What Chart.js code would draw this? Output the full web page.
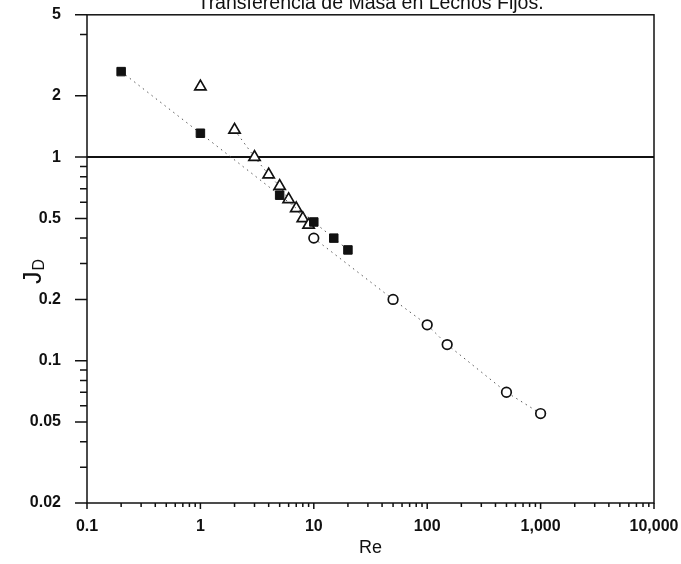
<!DOCTYPE html>
<html>
<head>
<meta charset="utf-8">
<script src="https://cdn.jsdelivr.net/npm/chart.js@4.4.1/dist/chart.umd.min.js"></script>
<style>
  html, body { margin: 0; padding: 0; background: #fff; }
  #wrap { position: relative; width: 681px; height: 564px; }
</style>
</head>
<body>
<div id="wrap"><canvas id="chart"></canvas></div>
<script>
// Data (Re vs J_D)
const squareRe = [0.2, 1, 5, 10, 15, 20];
const squareJd = [2.63, 1.31, 0.65, 0.48, 0.40, 0.35];

const triangleRe = [1, 2, 3, 4, 5, 6, 7, 8, 9];
const triangleJd = [2.22, 1.36, 1.0, 0.82, 0.72, 0.62, 0.56, 0.50, 0.465];

const circleRe = [10, 50, 100, 150, 500, 1000];
const circleJd = [0.40, 0.20, 0.15, 0.12, 0.07, 0.055];

// Axis ticks
const xTickValues = [0.1, 1, 10, 100, 1000, 10000];
const xTickLabels = ['0.1', '1', '10', '100', '1,000', '10,000'];
const yTickValues = [0.02, 0.05, 0.1, 0.2, 0.5, 1, 2, 5];
const yTickLabels = ['0.02', '0.05', '0.1', '0.2', '0.5', '1', '2', '5'];
const yMinorTicks = [4, 0.9, 0.8, 0.7, 0.6, 0.4, 0.3, 0.09, 0.08, 0.07, 0.06, 0.04, 0.03];
const xMinorSteps = [2, 3, 4, 5, 6, 7, 8, 9];

const ink = '#111';
const dotLine = '#555';
const fontFamily = "'Liberation Sans', Arial, Helvetica, sans-serif";

const toPoints = (xs, ys) => xs.map((x, i) => ({ x: x, y: ys[i] }));

// Frame, tick marks and the J_D axis label
const frameAndTicks = {
    id: 'frameAndTicks',
    afterDraw(chart) {
        const { ctx, chartArea: a, scales: { x, y } } = chart;
        ctx.save();
        ctx.strokeStyle = ink;
        ctx.lineWidth = 1.5;
        ctx.strokeRect(a.left, a.top, a.right - a.left, a.bottom - a.top);

        ctx.beginPath();
        yTickValues.forEach(v => {
            const p = y.getPixelForValue(v);
            ctx.moveTo(a.left - 12, p);
            ctx.lineTo(a.left, p);
        });
        yMinorTicks.forEach(v => {
            const p = y.getPixelForValue(v);
            ctx.moveTo(a.left - 7, p);
            ctx.lineTo(a.left, p);
        });
        xTickValues.forEach(v => {
            const p = x.getPixelForValue(v);
            ctx.moveTo(p, a.bottom);
            ctx.lineTo(p, a.bottom + 6);
        });
        xTickValues.slice(0, -1).forEach(d => {
            xMinorSteps.forEach(m => {
                const p = x.getPixelForValue(d * m);
                ctx.moveTo(p, a.bottom);
                ctx.lineTo(p, a.bottom + 4);
            });
        });
        ctx.stroke();

        // J with subscript D, rotated
        ctx.translate(41, 284);
        ctx.rotate(-Math.PI / 2);
        ctx.fillStyle = ink;
        ctx.textAlign = 'left';
        ctx.textBaseline = 'alphabetic';
        ctx.font = '25px ' + fontFamily;
        ctx.fillText('J', 0, 0);
        const jw = ctx.measureText('J').width;
        ctx.font = '16px ' + fontFamily;
        ctx.fillText('D', jw + 1, 3);
        ctx.restore();
    }
};

const triangleSegment = {
    borderColor: c => c.p0DataIndex === 0 ? 'rgba(0,0,0,0)' : dotLine
};

new Chart(document.getElementById('chart'), {
    type: 'scatter',
    data: {
        datasets: [
            {
                label: 'squares',
                data: toPoints(squareRe, squareJd),
                showLine: true,
                borderColor: dotLine,
                borderWidth: 1,
                borderDash: [1.5, 4],
                pointStyle: 'rect',
                pointRadius: 6,
                pointBackgroundColor: ink,
                pointBorderColor: ink,
                pointBorderWidth: 1
            },
            {
                label: 'triangles',
                data: toPoints(triangleRe, triangleJd),
                showLine: true,
                borderColor: dotLine,
                borderWidth: 1,
                borderDash: [1.5, 4],
                segment: triangleSegment,
                pointStyle: 'triangle',
                pointRadius: 6.5,
                pointBackgroundColor: '#fff',
                pointBorderColor: ink,
                pointBorderWidth: 1.7
            },
            {
                label: 'circles',
                data: toPoints(circleRe, circleJd),
                showLine: true,
                borderColor: dotLine,
                borderWidth: 1,
                borderDash: [1.5, 4],
                pointStyle: 'circle',
                pointRadius: 4.8,
                pointBackgroundColor: '#fff',
                pointBorderColor: ink,
                pointBorderWidth: 1.7
            }
        ]
    },
    options: {
        responsive: true,
        maintainAspectRatio: false,
        animation: false,
        layout: { padding: { left: 0, right: 27, top: 0, bottom: 0 } },
        plugins: {
            legend: { display: false },
            tooltip: { enabled: false },
            title: {
                display: true,
                text: 'Transferencia de Masa en Lechos Fijos.',
                fullSize: false,
                color: ink,
                font: { family: fontFamily, size: 19.5, weight: 'normal', lineHeight: 0.4 },
                padding: { top: 0, bottom: 7 }
            }
        },
        scales: {
            x: {
                type: 'logarithmic',
                min: 0.1,
                max: 10000,
                afterBuildTicks: s => { s.ticks = xTickValues.map(v => ({ value: v })); },
                afterFit: s => {
                    s.height = 61;
                    s.paddingLeft = 0;
                    s.paddingRight = 0;
                },
                grid: { display: false, drawTicks: false },
                border: { display: false },
                ticks: {
                    autoSkip: false,
                    maxRotation: 0,
                    padding: 14,
                    color: ink,
                    font: { family: fontFamily, size: 16, weight: 'bold' },
                    callback: (v, i) => xTickLabels[i]
                },
                title: {
                    display: true,
                    text: 'Re',
                    color: ink,
                    font: { family: fontFamily, size: 18 },
                    padding: { top: 0, bottom: 5 }
                }
            },
            y: {
                type: 'logarithmic',
                min: 0.02,
                max: 5,
                afterBuildTicks: s => { s.ticks = yTickValues.map(v => ({ value: v })); },
                afterFit: s => {
                    s.width = 87;
                    s.paddingTop = 0;
                    s.paddingBottom = 0;
                },
                grid: {
                    drawTicks: false,
                    color: c => c.tick && c.tick.value === 1 ? ink : 'rgba(0,0,0,0)',
                    lineWidth: 2
                },
                border: { display: false },
                ticks: {
                    autoSkip: false,
                    padding: 26,
                    color: ink,
                    font: { family: fontFamily, size: 16, weight: 'bold' },
                    callback: (v, i) => yTickLabels[i]
                }
            }
        }
    },
    plugins: [frameAndTicks]
});
</script>
</body>
</html>
